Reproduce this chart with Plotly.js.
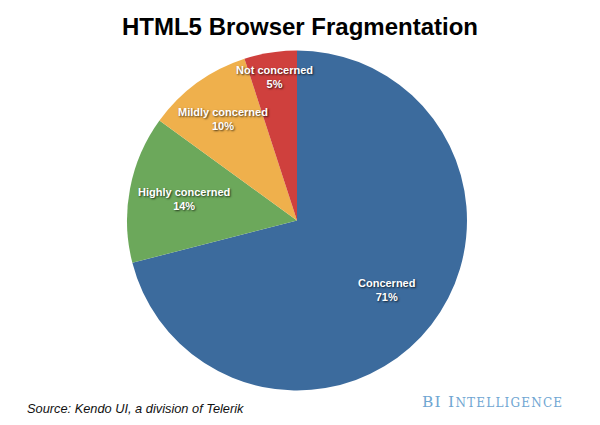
<!DOCTYPE html>
<html>
<head>
<meta charset="utf-8">
<script src="https://cdn.plot.ly/plotly-3.0.1.min.js"></script>
<style>html,body{margin:0;padding:0;background:#fff;}#chart{width:600px;height:425px;}</style>
</head>
<body>
<div id="chart"></div>
<script>
const labels = ["Concerned", "Highly concerned", "Mildly concerned", "Not concerned"];
const values = [71, 14, 10, 5];
const colors = ["#3c6b9d", "#6ca85b", "#efb04c", "#cf403d"];
// radial position of each label, as a fraction of the pie radius (style)
const labelRadius = [0.67, 0.675, 0.74, 0.855];

const W = 600, H = 425;
const domX = [127/600, 467/600];
const domY = [1-390.5/425, 1-50.5/425];

const trace = {
  type: "pie",
  labels: labels,
  values: values,
  sort: false,
  direction: "clockwise",
  rotation: 0,
  marker: {colors: colors, line: {width: 0}},
  textinfo: "none",
  hoverinfo: "none",
  showlegend: false,
  domain: {x: domX, y: domY}
};

// label annotations placed at each slice's mid-angle
const total = values.reduce((a, b) => a + b, 0);
const cx = (domX[0] + domX[1]) / 2, cy = (domY[0] + domY[1]) / 2;
const Rpx = Math.min((domX[1]-domX[0])*W, (domY[1]-domY[0])*H) / 2;
const labelAnns = [];
let cum = 0;
values.forEach((v, i) => {
  const theta = 2 * Math.PI * (cum + v/2) / total; // clockwise from 12 o'clock
  cum += v;
  const r = labelRadius[i] * Rpx;
  labelAnns.push({
    text: "<b>" + labels[i] + "<br>" + v + "%</b>",
    xref: "paper", yref: "paper",
    x: cx + r*Math.sin(theta)/W, y: cy + r*Math.cos(theta)/H,
    xanchor: "center", yanchor: "middle", showarrow: false, align: "center",
    font: {family: "Liberation Sans, Arial, sans-serif", size: 11, color: "#ffffff", shadow: "1px 1px 2px rgba(0,0,0,0.7)"}
  });
});

const layout = {
  width: W, height: H,
  margin: {l: 0, r: 0, t: 0, b: 0},
  paper_bgcolor: "#ffffff",
  title: {
    text: "<b>HTML5 Browser Fragmentation</b>",
    font: {family: "Liberation Sans, Arial, sans-serif", size: 24, color: "#000000"},
    x: 0.5, xanchor: "center", y: 1-27/425, yanchor: "middle", yref: "paper"
  },
  annotations: labelAnns.concat([
    {text: "<i>Source: Kendo UI, a division of Telerik</i>", xref: "paper", yref: "paper",
     x: 25/600, y: 1-408/425, xanchor: "left", yanchor: "middle", showarrow: false,
     font: {family: "Liberation Sans, Arial, sans-serif", size: 12.8, color: "#111111"}},
    {text: "<span style=\"letter-spacing:1.2px\">BI I</span><span style=\"font-size:12px;letter-spacing:1.2px\">NTELLIGENCE</span>", xref: "paper", yref: "paper",
     x: 565/600, y: 1-402/425, xanchor: "right", yanchor: "middle", showarrow: false,
     font: {family: "DejaVu Serif, Liberation Serif, serif", size: 15.5, color: "#6fa6d2"}}
  ])
};

Plotly.newPlot("chart", [trace], layout, {displayModeBar: false, staticPlot: true});
</script>
</body>
</html>
